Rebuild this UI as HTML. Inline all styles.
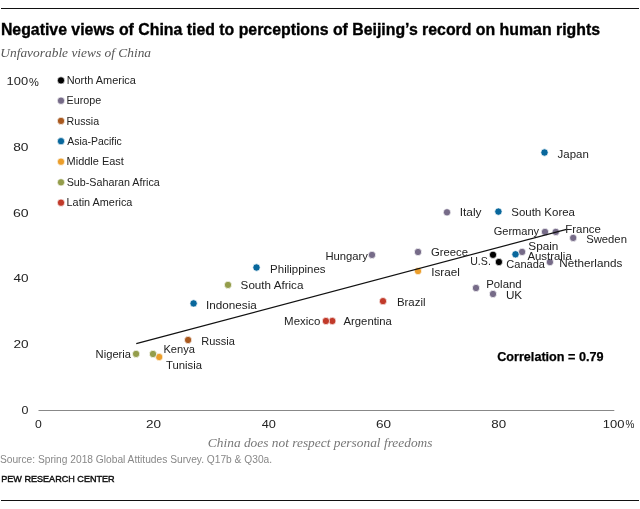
<!DOCTYPE html><html><head><meta charset="utf-8"><style>html,body{margin:0;padding:0;background:#fff;width:640px;height:509px;overflow:hidden}svg{display:block;will-change:transform}text{font-family:"Liberation Sans",sans-serif}</style></head><body>
<svg width="640" height="509" viewBox="0 0 640 509">
<rect x="1" y="8" width="638" height="1" fill="#111"/>
<rect x="1" y="500" width="638" height="1" fill="#111"/>
<rect x="38.5" y="410" width="575.8" height="1" fill="#888"/>
<circle cx="61" cy="80.4" r="3.65" fill="#000000" stroke="#fff" stroke-width="0.7"/>
<circle cx="61" cy="100.7" r="3.65" fill="#766b88" stroke="#fff" stroke-width="0.7"/>
<circle cx="61" cy="120.9" r="3.65" fill="#a9591f" stroke="#fff" stroke-width="0.7"/>
<circle cx="61" cy="141.2" r="3.65" fill="#08679c" stroke="#fff" stroke-width="0.7"/>
<circle cx="61" cy="161.7" r="3.65" fill="#eb9e2b" stroke="#fff" stroke-width="0.7"/>
<circle cx="61" cy="182.3" r="3.65" fill="#949d4b" stroke="#fff" stroke-width="0.7"/>
<circle cx="61" cy="202.7" r="3.65" fill="#c13a2a" stroke="#fff" stroke-width="0.7"/>
<circle cx="544.5" cy="152.5" r="3.65" fill="#08679c" stroke="#fff" stroke-width="0.7"/>
<circle cx="447" cy="212.3" r="3.65" fill="#766b88" stroke="#fff" stroke-width="0.7"/>
<circle cx="498.4" cy="211.6" r="3.65" fill="#08679c" stroke="#fff" stroke-width="0.7"/>
<circle cx="545" cy="231.9" r="3.65" fill="#766b88" stroke="#fff" stroke-width="0.7"/>
<circle cx="555.8" cy="231.9" r="3.65" fill="#766b88" stroke="#fff" stroke-width="0.7"/>
<circle cx="573.2" cy="237.9" r="3.65" fill="#766b88" stroke="#fff" stroke-width="0.7"/>
<circle cx="522.1" cy="251.9" r="3.65" fill="#766b88" stroke="#fff" stroke-width="0.7"/>
<circle cx="515.5" cy="254.3" r="3.65" fill="#08679c" stroke="#fff" stroke-width="0.7"/>
<circle cx="493" cy="254.8" r="3.65" fill="#000000" stroke="#fff" stroke-width="0.7"/>
<circle cx="498.9" cy="262" r="3.65" fill="#000000" stroke="#fff" stroke-width="0.7"/>
<circle cx="549.9" cy="262.1" r="3.65" fill="#766b88" stroke="#fff" stroke-width="0.7"/>
<circle cx="418" cy="252" r="3.65" fill="#766b88" stroke="#fff" stroke-width="0.7"/>
<circle cx="418" cy="271.1" r="3.65" fill="#eb9e2b" stroke="#fff" stroke-width="0.7"/>
<circle cx="372" cy="254.9" r="3.65" fill="#766b88" stroke="#fff" stroke-width="0.7"/>
<circle cx="476" cy="288" r="3.65" fill="#766b88" stroke="#fff" stroke-width="0.7"/>
<circle cx="493" cy="294" r="3.65" fill="#766b88" stroke="#fff" stroke-width="0.7"/>
<circle cx="383" cy="301.15" r="3.65" fill="#c13a2a" stroke="#fff" stroke-width="0.7"/>
<circle cx="332.3" cy="321" r="3.65" fill="#c13a2a" stroke="#fff" stroke-width="0.7"/>
<circle cx="325.9" cy="321" r="3.65" fill="#c13a2a" stroke="#fff" stroke-width="0.7"/>
<circle cx="256.5" cy="267.5" r="3.65" fill="#08679c" stroke="#fff" stroke-width="0.7"/>
<circle cx="228" cy="284.9" r="3.65" fill="#949d4b" stroke="#fff" stroke-width="0.7"/>
<circle cx="193.6" cy="303.4" r="3.65" fill="#08679c" stroke="#fff" stroke-width="0.7"/>
<circle cx="188.1" cy="340" r="3.65" fill="#a9591f" stroke="#fff" stroke-width="0.7"/>
<circle cx="136.1" cy="353.9" r="3.65" fill="#949d4b" stroke="#fff" stroke-width="0.7"/>
<circle cx="159.2" cy="357" r="3.65" fill="#eb9e2b" stroke="#fff" stroke-width="0.7"/>
<circle cx="153" cy="354" r="3.65" fill="#949d4b" stroke="#fff" stroke-width="0.7"/>
<line x1="136.25" y1="343.7" x2="566.5" y2="229.3" stroke="#111" stroke-width="1.2"/>
<text id="title" x="0.9" y="34.6" font-size="16" fill="#000" font-weight="bold" stroke="#000" stroke-width="0.35" textLength="599.1" lengthAdjust="spacingAndGlyphs">Negative views of China tied to perceptions of Beijing’s record on human rights</text>
<text id="sub" x="0.34" y="56.6" font-size="13.4" fill="#555" font-style="italic" style="font-family:'Liberation Serif',serif" textLength="150.71" lengthAdjust="spacingAndGlyphs">Unfavorable views of China</text>
<text id="y100" x="6.59" y="84.9" font-size="11" fill="#222" textLength="21.54" lengthAdjust="spacingAndGlyphs">100</text>
<text id="y80" x="13.24" y="150.7" font-size="11" fill="#222" textLength="15.3" lengthAdjust="spacingAndGlyphs">80</text>
<text id="y60" x="13" y="216.5" font-size="11" fill="#222" textLength="15.64" lengthAdjust="spacingAndGlyphs">60</text>
<text id="y40" x="13.57" y="282.3" font-size="11" fill="#222" textLength="15.07" lengthAdjust="spacingAndGlyphs">40</text>
<text id="y20" x="13.51" y="347.9" font-size="11" fill="#222" textLength="15.15" lengthAdjust="spacingAndGlyphs">20</text>
<text id="y0" x="21.49" y="413.7" font-size="11" fill="#222" textLength="6.95" lengthAdjust="spacingAndGlyphs">0</text>
<text id="ypct" x="28.9" y="85.5" font-size="10" fill="#222" textLength="9.84" lengthAdjust="spacingAndGlyphs">%</text>
<text id="x0" x="35.06" y="427.6" font-size="11" fill="#222" textLength="6.8" lengthAdjust="spacingAndGlyphs">0</text>
<text id="x20" x="145.93" y="427.6" font-size="11" fill="#222" textLength="15.05" lengthAdjust="spacingAndGlyphs">20</text>
<text id="x40" x="261.66" y="427.6" font-size="11" fill="#222" textLength="14.2" lengthAdjust="spacingAndGlyphs">40</text>
<text id="x60" x="376" y="427.6" font-size="11" fill="#222" textLength="15.08" lengthAdjust="spacingAndGlyphs">60</text>
<text id="x80" x="491.32" y="427.6" font-size="11" fill="#222" textLength="14.86" lengthAdjust="spacingAndGlyphs">80</text>
<text id="x100" x="602.74" y="427.6" font-size="11" fill="#222" textLength="21.67" lengthAdjust="spacingAndGlyphs">100</text>
<text id="xpct" x="625.52" y="428.1" font-size="10" fill="#222" textLength="8.91" lengthAdjust="spacingAndGlyphs">%</text>
<text id="xtitle" x="207.87" y="447" font-size="13.3" fill="#777" font-style="italic" style="font-family:'Liberation Serif',serif" textLength="224.63" lengthAdjust="spacingAndGlyphs">China does not respect personal freedoms</text>
<text id="src" x="-0.07" y="462.8" font-size="10" fill="#888" textLength="272.13" lengthAdjust="spacingAndGlyphs">Source: Spring 2018 Global Attitudes Survey. Q17b &amp; Q30a.</text>
<text id="pew" x="1.18" y="482" font-size="9.7" fill="#111" stroke="#111" stroke-width="0.45" textLength="113.51" lengthAdjust="spacingAndGlyphs">PEW RESEARCH CENTER</text>
<text id="lg_North_America" x="66.63" y="84.0" font-size="11" fill="#222" textLength="69.24" lengthAdjust="spacingAndGlyphs">North America</text>
<text id="lg_Europe" x="66.5" y="104.3" font-size="11" fill="#222" textLength="34.66" lengthAdjust="spacingAndGlyphs">Europe</text>
<text id="lg_Russia" x="66.59" y="124.5" font-size="11" fill="#222" textLength="32.58" lengthAdjust="spacingAndGlyphs">Russia</text>
<text id="lg_Asia-Pacific" x="67.26" y="144.8" font-size="11" fill="#222" textLength="54.57" lengthAdjust="spacingAndGlyphs">Asia-Pacific</text>
<text id="lg_Middle_East" x="66.59" y="165.3" font-size="11" fill="#222" textLength="57.32" lengthAdjust="spacingAndGlyphs">Middle East</text>
<text id="lg_Sub-Saharan_Africa" x="66.68" y="185.9" font-size="11" fill="#222" textLength="93.06" lengthAdjust="spacingAndGlyphs">Sub-Saharan Africa</text>
<text id="lg_Latin_America" x="66.58" y="206.3" font-size="11" fill="#222" textLength="65.82" lengthAdjust="spacingAndGlyphs">Latin America</text>
<text id="lb_Japan" x="557.64" y="157.5" font-size="11" fill="#222" textLength="31.18" lengthAdjust="spacingAndGlyphs">Japan</text>
<text id="lb_Italy" x="459.71" y="216.4" font-size="11" fill="#222" textLength="21.82" lengthAdjust="spacingAndGlyphs">Italy</text>
<text id="lb_South_Korea" x="511.29" y="216.4" font-size="11" fill="#222" textLength="63.64" lengthAdjust="spacingAndGlyphs">South Korea</text>
<text id="lb_Germany" x="493.7" y="234.5" font-size="11" fill="#222" textLength="45.46" lengthAdjust="spacingAndGlyphs">Germany</text>
<text id="lb_France" x="565.25" y="232.8" font-size="11" fill="#222" textLength="35.64" lengthAdjust="spacingAndGlyphs">France</text>
<text id="lb_Sweden" x="586.15" y="242.5" font-size="11" fill="#222" textLength="40.79" lengthAdjust="spacingAndGlyphs">Sweden</text>
<text id="lb_Spain" x="528.27" y="249.8" font-size="11" fill="#222" textLength="30.15" lengthAdjust="spacingAndGlyphs">Spain</text>
<text id="lb_Australia" x="527.4" y="259.5" font-size="11" fill="#222" textLength="44.33" lengthAdjust="spacingAndGlyphs">Australia</text>
<text id="lb_US" x="470.21" y="264.7" font-size="11" fill="#222" textLength="20.64" lengthAdjust="spacingAndGlyphs">U.S.</text>
<text id="lb_Canada" x="506.3" y="267.6" font-size="11" fill="#222" textLength="38.68" lengthAdjust="spacingAndGlyphs">Canada</text>
<text id="lb_Netherlands" x="559.32" y="267.3" font-size="11" fill="#222" textLength="63" lengthAdjust="spacingAndGlyphs">Netherlands</text>
<text id="lb_Greece" x="431.03" y="255.6" font-size="11" fill="#222" textLength="37" lengthAdjust="spacingAndGlyphs">Greece</text>
<text id="lb_Israel" x="431.24" y="275.6" font-size="11" fill="#222" textLength="28.64" lengthAdjust="spacingAndGlyphs">Israel</text>
<text id="lb_Hungary" x="325.43" y="259.7" font-size="11" fill="#222" textLength="42.55" lengthAdjust="spacingAndGlyphs">Hungary</text>
<text id="lb_Poland" x="486.21" y="287.7" font-size="11" fill="#222" textLength="35.44" lengthAdjust="spacingAndGlyphs">Poland</text>
<text id="lb_UK" x="505.9" y="298.6" font-size="11" fill="#222" textLength="16.29" lengthAdjust="spacingAndGlyphs">UK</text>
<text id="lb_Brazil" x="396.92" y="305.6" font-size="11" fill="#222" textLength="28.65" lengthAdjust="spacingAndGlyphs">Brazil</text>
<text id="lb_Argentina" x="343.53" y="325.1" font-size="11" fill="#222" textLength="48.39" lengthAdjust="spacingAndGlyphs">Argentina</text>
<text id="lb_Mexico" x="284.13" y="325.1" font-size="11" fill="#222" textLength="36.35" lengthAdjust="spacingAndGlyphs">Mexico</text>
<text id="lb_Philippines" x="270.12" y="273" font-size="11" fill="#222" textLength="55.46" lengthAdjust="spacingAndGlyphs">Philippines</text>
<text id="lb_South_Africa" x="240.64" y="288.8" font-size="11" fill="#222" textLength="62.78" lengthAdjust="spacingAndGlyphs">South Africa</text>
<text id="lb_Indonesia" x="206.05" y="308.9" font-size="11" fill="#222" textLength="50.7" lengthAdjust="spacingAndGlyphs">Indonesia</text>
<text id="lb_Russia" x="201.26" y="344.8" font-size="11" fill="#222" textLength="33.65" lengthAdjust="spacingAndGlyphs">Russia</text>
<text id="lb_Nigeria" x="95.64" y="357.5" font-size="11" fill="#222" textLength="35.44" lengthAdjust="spacingAndGlyphs">Nigeria</text>
<text id="lb_Tunisia" x="166" y="368.6" font-size="11" fill="#222" textLength="36" lengthAdjust="spacingAndGlyphs">Tunisia</text>
<text id="lb_Kenya" x="163.44" y="352.5" font-size="11" fill="#222" textLength="31.59" lengthAdjust="spacingAndGlyphs">Kenya</text>
<text id="corr" x="497.22" y="361.4" font-size="12.4" fill="#000" font-weight="bold" stroke="#000" stroke-width="0.25" textLength="106.24" lengthAdjust="spacingAndGlyphs">Correlation = 0.79</text>
</svg></body></html>
